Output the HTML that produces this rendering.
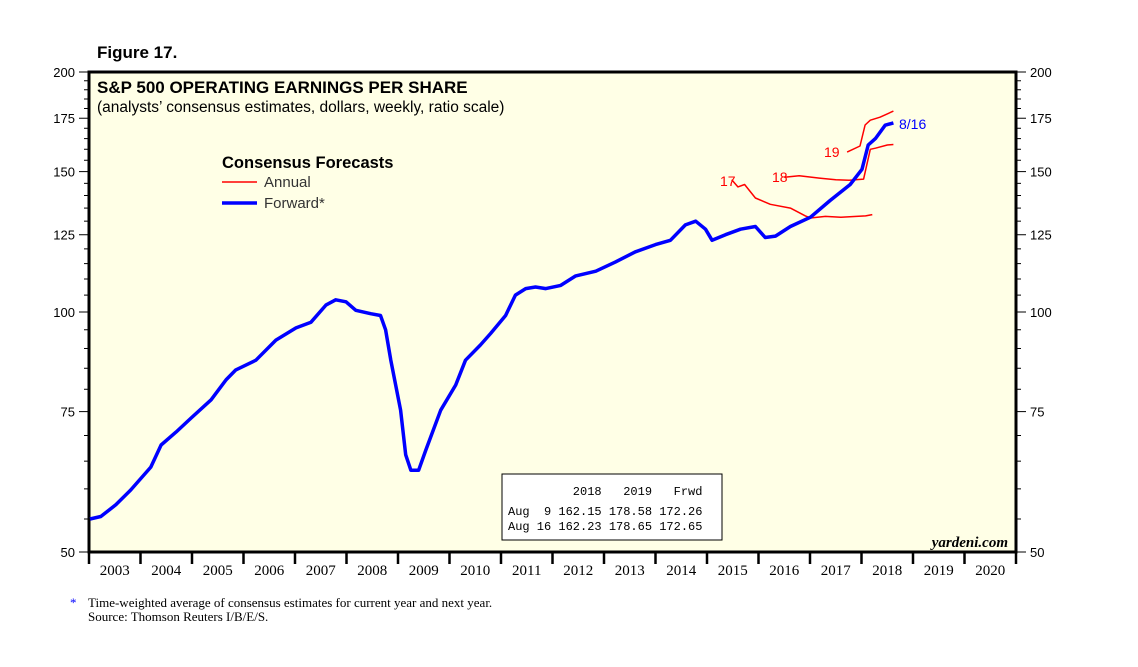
<!DOCTYPE html>
<html><head><meta charset="utf-8"><style>
body{margin:0;background:#fff;}
svg text{font-family:"Liberation Sans",sans-serif;}
svg text.mono{font-family:"Liberation Mono",monospace;}
svg text.serif{font-family:"Liberation Serif",serif;}
</style></head><body>
<svg width="1138" height="662" viewBox="0 0 1138 662" xmlns="http://www.w3.org/2000/svg">
<text x="97" y="58" font-size="17" font-weight="bold">Figure 17.</text>
<rect x="89" y="72" width="927" height="480" fill="#ffffe6" stroke="#000" stroke-width="3"/>
<text x="97" y="93" font-size="17" font-weight="bold">S&amp;P 500 OPERATING EARNINGS PER SHARE</text>
<text x="97" y="112" font-size="15.5">(analysts’ consensus estimates, dollars, weekly, ratio scale)</text>
<g id="axes"></g>
<g id="series"></g>
<g>
<text x="222" y="168" font-size="16.5" font-weight="bold">Consensus Forecasts</text>
<line x1="222" y1="182" x2="257" y2="182" stroke="#f00" stroke-width="1.5"/>
<text x="264" y="187" font-size="15" fill="#333">Annual</text>
<line x1="222" y1="203" x2="257" y2="203" stroke="#00f" stroke-width="3.5"/>
<text x="264" y="208" font-size="15" fill="#333">Forward*</text>
</g>
<text x="720" y="186" font-size="14" fill="#f00">17</text>
<text x="772" y="182" font-size="14" fill="#f00">18</text>
<text x="824" y="157" font-size="14" fill="#f00">19</text>
<text x="899" y="129" font-size="14" fill="#00f">8/16</text>
<g>
<rect x="502" y="474" width="220" height="66" fill="#fff" stroke="#000" stroke-width="1"/>
<text class="mono" x="508" y="495" font-size="12" xml:space="preserve">         2018   2019   Frwd</text>
<text class="mono" x="508" y="515" font-size="12" xml:space="preserve">Aug  9 162.15 178.58 172.26</text>
<text class="mono" x="508" y="530" font-size="12" xml:space="preserve">Aug 16 162.23 178.65 172.65</text>
</g>
<text class="serif" x="1008" y="547" font-size="15" font-weight="bold" font-style="italic" text-anchor="end">yardeni.com</text>
<text class="serif" x="70" y="607" font-size="13" fill="#00f">*</text>
<text class="serif" x="88" y="607" font-size="13">Time-weighted average of consensus estimates for current year and next year.</text>
<text class="serif" x="88" y="621" font-size="13">Source: Thomson Reuters I/B/E/S.</text>
</svg>
<script>
const yTicks=[50,75,100,125,150,175,200];
const years=[2003,2004,2005,2006,2007,2008,2009,2010,2011,2012,2013,2014,2015,2016,2017,2018,2019,2020];
const fwdDates=[2003.02,2003.23,2003.52,2003.81,2004.2,2004.4,2004.69,2004.98,2005.37,2005.66,2005.85,2006.24,2006.63,2007.02,2007.31,2007.6,2007.79,2007.99,2008.18,2008.47,2008.66,2008.76,2008.86,2009.05,2009.15,2009.25,2009.4,2009.54,2009.83,2010.12,2010.31,2010.6,2010.8,2011.09,2011.28,2011.48,2011.67,2011.87,2012.16,2012.45,2012.84,2013.22,2013.61,2014.0,2014.29,2014.58,2014.78,2014.97,2015.1,2015.36,2015.65,2015.94,2016.13,2016.33,2016.62,2017.01,2017.39,2017.78,2018.01,2018.13,2018.27,2018.46,2018.62];
const fwdValues=[55.0,55.4,57.3,59.8,63.9,68.1,70.7,73.6,77.6,82.2,84.6,87,92.2,95.5,97.1,102,103.6,103,100.5,99.5,99,95,87,75.3,66.2,63.3,63.3,67.1,75.3,81,87,90.9,94,99,105,107,107.5,107,108,111,112.5,115.5,119,121.5,123,128.6,130,127,123,125,127,128,124,124.5,128,131.5,138,144.5,151,162,165,171.5,172.65];
const a17Dates=[2015.48,2015.6,2015.73,2015.94,2016.23,2016.62,2016.91,2017.01,2017.3,2017.6,2017.9,2018.08,2018.21];
const a17Values=[146.5,143.5,144.5,139,136.5,135,132,131.2,131.8,131.5,131.8,132,132.5];
const a18Dates=[2016.5,2016.79,2017.18,2017.5,2017.76,2018.04,2018.17,2018.27,2018.5,2018.62];
const a18Values=[147.6,148.2,147.2,146.5,146.3,146.8,160,160.5,162,162.23];
const a19Dates=[2017.72,2017.97,2018.07,2018.17,2018.36,2018.62];
const a19Values=[158.7,161.5,171.6,174,175.5,178.65];
const L=89,R=1016,T=72,B=552,X0=2003,X1=2021;
const xs=d=>L+(d-X0)/(X1-X0)*(R-L);
const ys=v=>B-Math.log(v/50)/Math.log(4)*(B-T);
const NS='http://www.w3.org/2000/svg';
function mk(t,a,p){const e=document.createElementNS(NS,t);for(const k in a)e.setAttribute(k,a[k]);p.appendChild(e);return e;}
const ax=document.getElementById('axes');
for(let v=50;v<=200;v+=5){const y=ys(v);const major=yTicks.includes(v);
const t1=mk('line',{x1:major?L-10:L-5,x2:L,y1:y,y2:y,stroke:'#000','stroke-width':1},ax);


const t2=mk('line',{x1:R,x2:major?R+10:R+5,y1:y,y2:y,stroke:'#000','stroke-width':1},ax);

}
yTicks.forEach(v=>{const y=ys(v);
const a=mk('text',{x:L-14,y:y+5,'font-size':13,'text-anchor':'end'},ax);a.textContent=v;


const b=mk('text',{x:R+14,y:y+5,'font-size':13},ax);b.textContent=v;

});
years.forEach(yr=>{const x=xs(yr);
const t=mk('line',{x1:x,x2:x,y1:B,y2:B+12,stroke:'#000','stroke-width':2.5},ax);


const l=mk('text',{x:xs(yr+0.5),y:B+23,'font-size':15,'text-anchor':'middle','class':'serif'},ax);l.textContent=yr;

});
{const t=mk('line',{x1:R,x2:R,y1:B,y2:B+12,stroke:'#000','stroke-width':2.5},ax);

}
const sg=document.getElementById('series');
function line(d,v,c,w,name){const p=mk('polyline',{points:d.map((x,i)=>xs(x).toFixed(1)+','+ys(v[i]).toFixed(1)).join(' '),fill:'none',stroke:c,'stroke-width':w,'stroke-linejoin':'round'},sg);

}
line(a17Dates,a17Values,'#f00',1.5,'annual-2017-line');
line(a18Dates,a18Values,'#f00',1.5,'annual-2018-line');
line(a19Dates,a19Values,'#f00',1.5,'annual-2019-line');
line(fwdDates,fwdValues,'#00f',3.5,'forward-line');
</script>
</body></html>
